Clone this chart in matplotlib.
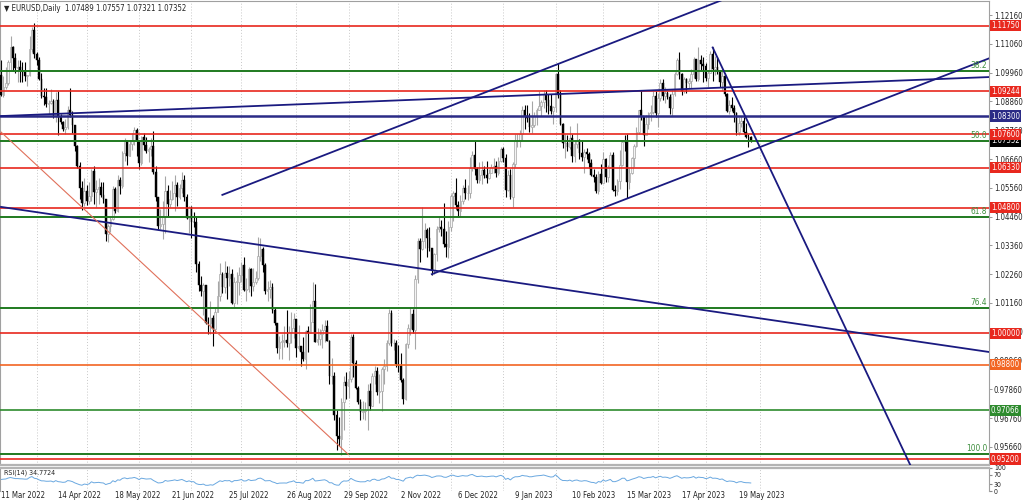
import matplotlib
matplotlib.use('Agg')
import matplotlib.pyplot as plt
import matplotlib.transforms as mtransforms
from matplotlib import font_manager as fm
import numpy as np
import pandas as pd

# --- EURUSD daily, one bar per weekday from 11 Mar 2022 ---
first_open = 1.0985
closes = [
    1.0912, 1.0941, 1.0955, 1.1035, 1.1093, 1.1050, 1.1015, 1.1017, 1.1003, 1.0998, 1.0983, 1.0985, 1.1088, 1.1158, 1.1067,  # mar 22
    1.1046, 1.0973, 1.0905, 1.0903, 1.0877, 1.0878, 1.0887, 1.0829, 1.0890, 1.0826, 1.0808, 1.0780, 1.0788, 1.0853, 1.0835, 1.0796, 1.0714, 1.0640, 1.0557, 1.0498, 1.0545,  # apr
    1.0505, 1.0526, 1.0619, 1.0539, 1.0550, 1.0560, 1.0530, 1.0515, 1.0378, 1.0411, 1.0437, 1.0553, 1.0466, 1.0587, 1.0562, 1.0690, 1.0734, 1.0678, 1.0725, 1.0734, 1.0777, 1.0733,  # may
    1.0650, 1.0750, 1.0720, 1.0696, 1.0705, 1.0716, 1.0616, 1.0519, 1.0411, 1.0418, 1.0443, 1.0545, 1.0494, 1.0515, 1.0535, 1.0567, 1.0522, 1.0555, 1.0584, 1.0519, 1.0442, 1.0484,  # jun
    1.0426, 1.0425, 1.0265, 1.0183, 1.0163, 1.0185, 1.0039, 1.0038, 1.0060, 1.0018, 1.0080, 1.0143, 1.0227, 1.0177, 1.0230, 1.0211, 1.0225, 1.0117, 1.0198, 1.0198, 1.0222,  # jul
    1.0260, 1.0164, 1.0170, 1.0245, 1.0180, 1.0196, 1.0210, 1.0297, 1.0321, 1.0261, 1.0160, 1.0170, 1.0176, 1.0089, 1.0039, 0.9943, 0.9968, 0.9970, 0.9973, 0.9965, 1.0005, 1.0020, 1.0055,  # aug
    0.9945, 0.9953, 0.9930, 0.9902, 1.0009, 1.0002, 1.0045, 1.0122, 0.9967, 0.9980, 0.9999, 1.0014, 1.0028, 0.9972, 0.9837, 0.9837, 0.9689, 0.9608, 0.9595, 0.9736, 0.9816, 0.9800,  # sep
    0.9824, 0.9986, 0.9887, 0.9792, 0.9738, 0.9701, 0.9705, 0.9706, 0.9781, 0.9722, 0.9837, 0.9858, 0.9776, 0.9778, 0.9862, 0.9877, 0.9964, 1.0078, 0.9963, 0.9965, 0.9882,  # oct
    0.9876, 0.9821, 0.9750, 0.9960, 1.0020, 1.0074, 1.0012, 1.0206, 1.0353, 1.0324, 1.0353, 1.0393, 1.0363, 1.0325, 1.0243, 1.0305, 1.0397, 1.0408, 1.0400, 1.0340, 1.0328, 1.0406,  # nov
    1.0523, 1.0535, 1.0490, 1.0467, 1.0507, 1.0554, 1.0535, 1.0536, 1.0630, 1.0680, 1.0626, 1.0585, 1.0606, 1.0623, 1.0603, 1.0595, 1.0614, 1.0635, 1.0638, 1.0612, 1.0660, 1.0704,  # dec
    1.0670, 1.0548, 1.0606, 1.0522, 1.0645, 1.0733, 1.0734, 1.0762, 1.0853, 1.0830, 1.0823, 1.0790, 1.0794, 1.0831, 1.0855, 1.0870, 1.0885, 1.0914, 1.0891, 1.0868, 1.0848, 1.0863,  # jan 23
    1.0989, 1.0910, 1.0799, 1.0727, 1.0728, 1.0712, 1.0745, 1.0678, 1.0723, 1.0737, 1.0688, 1.0673, 1.0694, 1.0687, 1.0650, 1.0605, 1.0596, 1.0545, 1.0609, 1.0576,  # feb
    1.0666, 1.0597, 1.0637, 1.0682, 1.0549, 1.0545, 1.0583, 1.0642, 1.0731, 1.0730, 1.0577, 1.0611, 1.0668, 1.0716, 1.0770, 1.0853, 1.0830, 1.0759, 1.0799, 1.0842, 1.0844, 1.0905, 1.0840,  # mar
    1.0900, 1.0955, 1.0906, 1.0920, 1.0904, 1.0862, 1.0914, 1.0992, 1.1046, 1.0992, 1.0926, 1.0972, 1.0957, 1.0964, 1.0991, 1.1047, 1.0973, 1.1043, 1.1028, 1.1021,  # apr
    1.0975, 1.0996, 1.1066, 1.1010, 1.1019, 1.1003, 1.0960, 1.0984, 1.0914, 1.0849, 1.0873, 1.0862, 1.0842, 1.0769, 1.0805, 1.0813, 1.0771, 1.0750, 1.07489, 1.07352,  # may
]
highs = [
    1.1043, 1.0982, 1.1017, 1.1043, 1.1137, 1.1098, 1.1070, 1.1045, 1.1045, 1.1036, 1.1036, 1.0988, 1.1137, 1.1170, 1.1185,
    1.1076, 1.1054, 1.0994, 1.0937, 1.0936, 1.0891, 1.0934, 1.0895, 1.0923, 1.0925, 1.0838, 1.0812, 1.0819, 1.0867, 1.0936, 1.0850, 1.0788, 1.0719, 1.0653, 1.0582, 1.0593,
    1.0566, 1.0580, 1.0627, 1.0641, 1.0584, 1.0594, 1.0578, 1.0578, 1.0514, 1.0419, 1.0443, 1.0562, 1.0560, 1.0606, 1.0596, 1.0697, 1.0748, 1.0735, 1.0737, 1.0765, 1.0787, 1.0786,
    1.0737, 1.0752, 1.0764, 1.0749, 1.0710, 1.0748, 1.0774, 1.0638, 1.0519, 1.0474, 1.0506, 1.0601, 1.0567, 1.0547, 1.0583, 1.0606, 1.0577, 1.0572, 1.0615, 1.0606, 1.0533, 1.0487,
    1.0486, 1.0463, 1.0445, 1.0275, 1.0219, 1.0191, 1.0174, 1.0062, 1.0122, 1.0069, 1.0099, 1.0200, 1.0269, 1.0234, 1.0278, 1.0257, 1.0258, 1.0245, 1.0215, 1.0234, 1.0254,
    1.0274, 1.0293, 1.0213, 1.0254, 1.0250, 1.0249, 1.0240, 1.0368, 1.0364, 1.0330, 1.0268, 1.0201, 1.0202, 1.0191, 1.0095, 1.0039, 0.9989, 0.9999, 1.0029, 1.0090, 1.0028, 1.0080, 1.0079,
    1.0055, 1.0033, 0.9951, 0.9988, 1.0012, 1.0029, 1.0113, 1.0198, 1.0187, 1.0020, 1.0017, 1.0036, 1.0050, 1.0051, 0.9976, 0.9907, 0.9852, 0.9709, 0.9680, 0.9752, 0.9837, 0.9853,
    0.9855, 0.9999, 0.9998, 0.9897, 0.9800, 0.9750, 0.9743, 0.9736, 0.9807, 0.9809, 0.9847, 0.9875, 0.9873, 0.9846, 0.9871, 0.9901, 0.9976, 1.0093, 1.0088, 0.9980, 0.9976,
    0.9954, 0.9926, 0.9830, 0.9965, 1.0034, 1.0096, 1.0093, 1.0222, 1.0365, 1.0364, 1.0481, 1.0423, 1.0401, 1.0408, 1.0325, 1.0308, 1.0410, 1.0448, 1.0433, 1.0497, 1.0390, 1.0429,
    1.0534, 1.0545, 1.0595, 1.0506, 1.0530, 1.0565, 1.0589, 1.0566, 1.0673, 1.0695, 1.0736, 1.0637, 1.0654, 1.0658, 1.0638, 1.0658, 1.0629, 1.0645, 1.0671, 1.0657, 1.0673, 1.0713,
    1.0712, 1.0684, 1.0623, 1.0626, 1.0653, 1.0760, 1.0761, 1.0777, 1.0867, 1.0874, 1.0874, 1.0843, 1.0888, 1.0844, 1.0860, 1.0927, 1.0890, 1.0928, 1.0929, 1.0913, 1.0915, 1.0870,
    1.0993, 1.1033, 1.0930, 1.0804, 1.0760, 1.0758, 1.0791, 1.0760, 1.0737, 1.0804, 1.0742, 1.0733, 1.0705, 1.0709, 1.0694, 1.0666, 1.0628, 1.0607, 1.0621, 1.0646,
    1.0691, 1.0668, 1.0643, 1.0694, 1.0694, 1.0566, 1.0589, 1.0700, 1.0736, 1.0759, 1.0760, 1.0631, 1.0675, 1.0722, 1.0787, 1.0855, 1.0929, 1.0830, 1.0833, 1.0846, 1.0872, 1.0926, 1.0925,
    1.0920, 1.0973, 1.0970, 1.0942, 1.0925, 1.0915, 1.0929, 1.0998, 1.1050, 1.1076, 1.0994, 1.0981, 1.0976, 1.0975, 1.1011, 1.1054, 1.1048, 1.1095, 1.1062, 1.1054,
    1.1032, 1.1007, 1.1080, 1.1092, 1.1059, 1.1054, 1.1006, 1.1013, 1.0993, 1.0918, 1.0891, 1.0903, 1.0873, 1.0845, 1.0828, 1.0829, 1.0827, 1.0805, 1.0760, 1.07557,
]
lows = [
    1.0906, 1.0902, 1.0935, 1.0950, 1.1007, 1.1004, 1.0996, 1.0961, 1.0962, 1.0960, 1.0963, 1.0945, 1.0984, 1.1075, 1.1052,
    1.1026, 1.0967, 1.0900, 1.0872, 1.0865, 1.0837, 1.0875, 1.0821, 1.0807, 1.0758, 1.0800, 1.0772, 1.0762, 1.0782, 1.0826, 1.0766, 1.0698, 1.0633, 1.0514, 1.0471, 1.0486,
    1.0490, 1.0493, 1.0505, 1.0493, 1.0483, 1.0494, 1.0520, 1.0498, 1.0354, 1.0349, 1.0389, 1.0432, 1.0461, 1.0462, 1.0531, 1.0557, 1.0660, 1.0642, 1.0676, 1.0700, 1.0721, 1.0677,
    1.0627, 1.0642, 1.0702, 1.0689, 1.0653, 1.0679, 1.0608, 1.0507, 1.0397, 1.0398, 1.0359, 1.0382, 1.0445, 1.0482, 1.0508, 1.0469, 1.0486, 1.0513, 1.0536, 1.0504, 1.0437, 1.0382,
    1.0366, 1.0408, 1.0236, 1.0162, 1.0144, 1.0072, 1.0034, 0.9999, 0.9998, 0.9952, 1.0006, 1.0085, 1.0122, 1.0153, 1.0153, 1.0131, 1.0180, 1.0112, 1.0097, 1.0112, 1.0146,
    1.0197, 1.0160, 1.0123, 1.0158, 1.0141, 1.0160, 1.0188, 1.0202, 1.0275, 1.0236, 1.0150, 1.0123, 1.0135, 1.0078, 1.0033, 0.9926, 0.9901, 0.9903, 0.9949, 0.9947, 0.9900, 0.9964, 0.9982,
    0.9910, 0.9935, 0.9877, 0.9894, 0.9864, 0.9929, 1.0000, 1.0049, 0.9966, 0.9955, 0.9955, 0.9944, 0.9966, 0.9970, 0.9807, 0.9807, 0.9668, 0.9553, 0.9570, 0.9536, 0.9632, 0.9749,
    0.9752, 0.9815, 0.9835, 0.9789, 0.9731, 0.9669, 0.9671, 0.9668, 0.9632, 0.9707, 0.9722, 0.9806, 0.9766, 0.9733, 0.9705, 0.9808, 0.9856, 0.9955, 0.9951, 0.9935, 0.9870,
    0.9851, 0.9815, 0.9730, 0.9745, 0.9944, 0.9995, 1.0000, 0.9941, 1.0192, 1.0271, 1.0319, 1.0327, 1.0292, 1.0314, 1.0223, 1.0226, 1.0275, 1.0389, 1.0372, 1.0331, 1.0290, 1.0289,
    1.0391, 1.0429, 1.0476, 1.0444, 1.0444, 1.0494, 1.0513, 1.0508, 1.0516, 1.0622, 1.0605, 1.0575, 1.0574, 1.0572, 1.0592, 1.0573, 1.0588, 1.0611, 1.0612, 1.0596, 1.0605, 1.0654,
    1.0653, 1.0521, 1.0545, 1.0512, 1.0484, 1.0636, 1.0711, 1.0712, 1.0737, 1.0780, 1.0807, 1.0770, 1.0766, 1.0790, 1.0797, 1.0857, 1.0832, 1.0860, 1.0845, 1.0836, 1.0838, 1.0800,
    1.0844, 1.0898, 1.0795, 1.0708, 1.0670, 1.0695, 1.0705, 1.0656, 1.0655, 1.0708, 1.0665, 1.0660, 1.0613, 1.0667, 1.0633, 1.0600, 1.0578, 1.0536, 1.0533, 1.0570,
    1.0577, 1.0578, 1.0577, 1.0630, 1.0544, 1.0524, 1.0527, 1.0553, 1.0640, 1.0698, 1.0516, 1.0551, 1.0610, 1.0636, 1.0712, 1.0762, 1.0815, 1.0714, 1.0763, 1.0779, 1.0812, 1.0838, 1.0826,
    1.0788, 1.0888, 1.0893, 1.0878, 1.0896, 1.0837, 1.0831, 1.0906, 1.0985, 1.0973, 1.0911, 1.0917, 1.0917, 1.0937, 1.0938, 1.0974, 1.0965, 1.0965, 1.1005, 1.0960,
    1.0963, 1.0942, 1.0995, 1.0965, 1.0985, 1.0992, 1.0941, 1.0924, 1.0907, 1.0846, 1.0838, 1.0851, 1.0809, 1.0759, 1.0759, 1.0790, 1.0762, 1.0747, 1.0710, 1.07321,
]

# horizontal line objects (price, colour)
level_prices = [1.11750, 1.09244, 1.08300, 1.07600, 1.06330, 1.04800, 1.00000, 0.98800, 0.97066, 0.95200]
level_colors = ['#e8281e', '#e8281e', '#2b2b86', '#e8281e', '#e8281e', '#e8281e', '#e8281e', '#f26522', '#2e8b2e', '#e8281e']

# fibo retracement levels
fib_labels = ['38.2', '50.0', '61.8', '76.4', '100.0']
fib_prices = [1.1003, 1.0735, 1.0444, 1.0097, 0.9538]

# trend lines: (bar, price) -> (bar, price)
trend_lines = [
    ((0, 1.0830), (415, 1.0979)),
    ((93, 1.0529), (330, 1.1369)),
    ((181, 1.0226), (415, 1.1050)),
    ((0, 1.0483), (415, 0.9929)),
    ((299, 1.1092), (385, 0.9440)),
]
fib_diag = ((0, 1.0769), (146, 0.9537))

price_ticks = [1.1216, 1.1106, 1.0996, 1.0886, 1.0776, 1.0666, 1.0556, 1.0446,
               1.0336, 1.0226, 1.0116, 1.0006, 0.9896, 0.9786, 0.9676, 0.9566]
date_labels = ['11 Mar 2022', '14 Apr 2022', '18 May 2022', '21 Jun 2022', '25 Jul 2022',
               '26 Aug 2022', '29 Sep 2022', '2 Nov 2022', '6 Dec 2022', '9 Jan 2023',
               '10 Feb 2023', '15 Mar 2023', '17 Apr 2023', '19 May 2023']
last_price = 1.07352
header = '\u25BC EURUSD,Daily  1.07489 1.07557 1.07321 1.07352'
rsi_text = 'RSI(14) 34.7724'

# pick a narrow face if one is installed, otherwise shrink the text
names = {(f.name, f.stretch) for f in fm.fontManager.ttflist}
if any(n == 'Liberation Sans Narrow' for n, s in names):
    FONT, STRETCH, FS = ['Liberation Sans Narrow', 'DejaVu Sans'], 'normal', 6.5
elif ('DejaVu Sans', 'condensed') in names or ('DejaVu Sans', 'semi-condensed') in names:
    FONT, STRETCH, FS = ['DejaVu Sans', 'Liberation Sans'], 'condensed', 5.6
else:
    FONT, STRETCH, FS = ['Liberation Sans', 'DejaVu Sans'], 'normal', 5.3
plt.rcParams['font.family'] = FONT
plt.rcParams['font.stretch'] = STRETCH

c = np.array(closes)
o = np.array([first_open] + closes[:-1])
h = np.maximum(np.array(highs), np.maximum(o, c))
l = np.minimum(np.array(lows), np.minimum(o, c))
x = np.arange(len(c))
dates = pd.bdate_range('2022-03-11', periods=len(c))
cal = pd.bdate_range('2022-03-11', '2023-06-30')
month_starts = [i for i in range(1, len(cal)) if cal[i].month != cal[i - 1].month]

W, H = 1024, 501
fig = plt.figure(figsize=(W / 100, H / 100), dpi=100)
ax = fig.add_axes([0, (H - 465) / H, 989 / W, 464 / H])
ax_rsi = fig.add_axes([0, (H - 491) / H, 989 / W, 23 / H])

XLIM = (-0.42, 415.1)
ax.set_xlim(*XLIM)
ax.set_ylim(0.94972, 1.12695)

for m in month_starts:
    for a in (ax, ax_rsi):
        a.axvline(m, color='#c8c8c8', lw=0.7, ls=(0, (1, 2)), zorder=0)

# candles
up = c >= o
ax.vlines(x[up], l[up], h[up], color='#a6a6a6', lw=0.8, zorder=2)
ax.vlines(x[~up], l[~up], h[~up], color='black', lw=0.8, zorder=2)
body_lo = np.minimum(o, c)
body_h = np.maximum(np.abs(c - o), 0.00012)
ax.bar(x[up], body_h[up], bottom=body_lo[up], width=0.7, color='#f4f4f4',
       edgecolor='#a6a6a6', lw=0.5, zorder=3)
ax.bar(x[~up], body_h[~up], bottom=body_lo[~up], width=0.7, color='black',
       edgecolor='black', lw=0.3, zorder=3)

bt = mtransforms.blended_transform_factory(ax.transAxes, ax.transData)

# horizontal levels
for p, col in zip(level_prices, level_colors):
    lw = 1.8 if col == '#2b2b86' else 1.2
    ax.axhline(p, color=col, lw=lw, zorder=4)
for lab, p in zip(fib_labels, fib_prices):
    ax.axhline(p, color='#1f7a1f', lw=1.4, zorder=4)
    ax.text(0.998, p + 0.0004, lab, transform=bt, ha='right', va='bottom',
            fontsize=FS + 0.4, color='#3f8f3f', zorder=6)

# trend lines
for (x0, p0), (x1, p1) in trend_lines:
    ax.plot([x0, x1], [p0, p1], color='#1a1a80', lw=1.3, zorder=5)
ax.plot([fib_diag[0][0], fib_diag[1][0]], [fib_diag[0][1], fib_diag[1][1]],
        color='#e0705a', lw=0.8, zorder=5)

# price axis
ax.yaxis.tick_right()
ax.set_yticks(price_ticks)
ax.set_yticklabels([f'{p:.5f}' for p in price_ticks])
ax.tick_params(axis='y', labelsize=FS, length=2, width=0.6, color='#888888',
               labelcolor='#222222', pad=1.5)
ax.set_xticks([])
for s in ax.spines.values():
    s.set_color('#a0a0a0')
    s.set_linewidth(0.8)
ax.spines['bottom'].set_linewidth(1.6)
ax.spines['bottom'].set_color('#b4b4b4')

ax.text(1.002, last_price, f'{last_price:.5f}', transform=bt, ha='left', va='center',
        fontsize=FS, color='white', zorder=7,
        bbox=dict(boxstyle='square,pad=0.15', fc='black', ec='none'))
for p, col in zip(level_prices, level_colors):
    ax.text(1.002, p, f'{p:.5f}', transform=bt, ha='left', va='center', fontsize=FS,
            color='white', zorder=8, clip_on=False,
            bbox=dict(boxstyle='square,pad=0.15', fc=col, ec='none'))

ax.text(0.004, 0.993, header, transform=ax.transAxes, ha='left', va='top',
        fontsize=FS, color='#222222')

# RSI(14), Wilder smoothing
delta = np.diff(c, prepend=c[0])
ag, al = 0.004, 0.004
rsi = []
for d in delta:
    ag = (ag * 13 + max(d, 0)) / 14
    al = (al * 13 + max(-d, 0)) / 14
    rsi.append(100 - 100 / (1 + ag / al))
ax_rsi.plot(x, rsi, color='#6aa8e0', lw=0.7)
ax_rsi.set_xlim(*XLIM)
ax_rsi.set_ylim(0, 100)
ax_rsi.yaxis.tick_right()
ax_rsi.set_yticks([100, 70, 30, 0])
ax_rsi.tick_params(axis='y', labelsize=FS - 0.6, length=2, color='#888888',
                   labelcolor='#222222', pad=1.5)
ax_rsi.set_xticks([])
for s in ax_rsi.spines.values():
    s.set_color('#a0a0a0')
    s.set_linewidth(0.8)
ax_rsi.spines['top'].set_linewidth(1.6)
ax_rsi.spines['top'].set_color('#b4b4b4')
ax_rsi.spines['bottom'].set_visible(False)
ax_rsi.text(0.004, 0.93, rsi_text, transform=ax_rsi.transAxes, ha='left', va='top',
            fontsize=FS - 0.6, color='#222222')

# date axis
dt = mtransforms.blended_transform_factory(ax_rsi.transData, fig.transFigure)
for lab in date_labels:
    i = dates.get_loc(pd.to_datetime(lab, format='%d %b %Y'))
    ax_rsi.text(i, 1 - 496 / H, lab, transform=dt, ha='left', va='center',
                fontsize=FS, color='#222222', clip_on=False)

fig.savefig('out.png', dpi=100, facecolor='white')
